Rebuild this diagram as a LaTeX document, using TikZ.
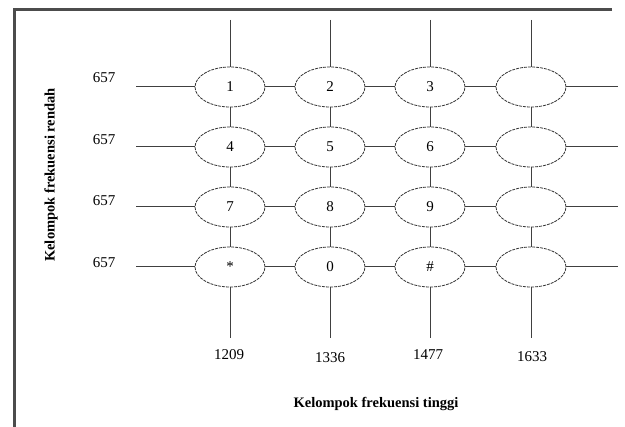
\documentclass[tikz,border=0pt]{standalone}
\usepackage{fontspec}
\setmainfont{Liberation Serif}
\usetikzlibrary{shapes.geometric}

\begin{document}
\begin{tikzpicture}[x=1pt,y=-1pt,
  key/.style={draw=black!80,ellipse,line width=0.8pt,dash pattern=on 3pt off 1pt,minimum width=70pt,minimum height=40pt,inner sep=0pt,font=\fontsize{15}{15}\selectfont},
  wire/.style={draw=black!75,line width=1pt},
  freq/.style={font=\fontsize{15}{15}\selectfont},
  axis/.style={font=\bfseries\fontsize{14.5}{14.5}\selectfont}]
  \useasboundingbox (0,0) rectangle (625,427);
  % frame
  \draw[line width=3pt,black!70] (612,10) -- (14,10) -- (14,427);
  % keypad
  \node[key] (k11) at (230,87) {1}; \node[key] (k12) at (330,87) {2};
  \node[key] (k13) at (430,87) {3}; \node[key] (k14) at (531,87) {};
  \node[key] (k21) at (230,147) {4}; \node[key] (k22) at (330,147) {5};
  \node[key] (k23) at (430,147) {6}; \node[key] (k24) at (531,147) {};
  \node[key] (k31) at (230,207) {7}; \node[key] (k32) at (330,207) {8};
  \node[key] (k33) at (430,207) {9}; \node[key] (k34) at (531,207) {};
  \node[key] (k41) at (230,267) {*}; \node[key] (k42) at (330,267) {0};
  \node[key] (k43) at (430,267) {\#}; \node[key] (k44) at (531,267) {};
  % line ends
  \coordinate (l1) at (136,87); \coordinate (r1) at (618,87);
  \coordinate (l2) at (136,147); \coordinate (r2) at (618,147);
  \coordinate (l3) at (136,207); \coordinate (r3) at (618,207);
  \coordinate (l4) at (136,267); \coordinate (r4) at (618,267);
  \coordinate (t1) at (230,20); \coordinate (b1) at (230,338);
  \coordinate (t2) at (330,20); \coordinate (b2) at (330,338);
  \coordinate (t3) at (430,20); \coordinate (b3) at (430,338);
  \coordinate (t4) at (531,20); \coordinate (b4) at (531,338);
  \draw[wire] (l1) -- (k11) -- (k12) -- (k13) -- (k14) -- (r1);
  \draw[wire] (l2) -- (k21) -- (k22) -- (k23) -- (k24) -- (r2);
  \draw[wire] (l3) -- (k31) -- (k32) -- (k33) -- (k34) -- (r3);
  \draw[wire] (l4) -- (k41) -- (k42) -- (k43) -- (k44) -- (r4);
  \draw[wire] (t1) -- (k11) -- (k21) -- (k31) -- (k41) -- (b1);
  \draw[wire] (t2) -- (k12) -- (k22) -- (k32) -- (k42) -- (b2);
  \draw[wire] (t3) -- (k13) -- (k23) -- (k33) -- (k43) -- (b3);
  \draw[wire] (t4) -- (k14) -- (k24) -- (k34) -- (k44) -- (b4);
  % frequencies
  \node[freq] (low1) at (104,78) {657};
  \node[freq] (low2) at (104,140) {657};
  \node[freq] (low3) at (104,201) {657};
  \node[freq] (low4) at (104,263) {657};
  \node[freq] (high1) at (229,355) {1209};
  \node[freq] (high2) at (330,358) {1336};
  \node[freq] (high3) at (428,355) {1477};
  \node[freq] (high4) at (532,357) {1633};
  \node[axis] (hlabel) at (376,404) {Kelompok frekuensi tinggi};
  \node[axis,rotate=90] (llabel) at (51,175) {Kelompok frekuensi rendah};
\end{tikzpicture}
\end{document}
